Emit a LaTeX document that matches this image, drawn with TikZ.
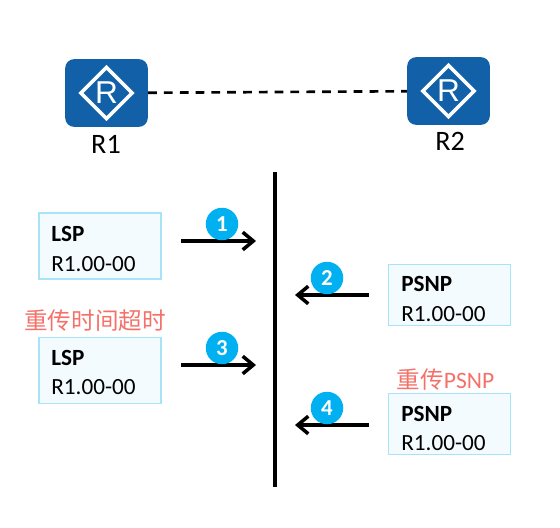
\documentclass[tikz,border=0pt]{standalone}
\usepackage{fontspec}
\setmainfont{Carlito}
\newfontfamily\cjk{Noto Sans CJK SC}
\newfontfamily\routerfont{Liberation Sans}
\usetikzlibrary{arrows.meta}
\usetikzlibrary{shapes.geometric}
\definecolor{routerblue}{HTML}{1160A8}
\definecolor{boxline}{HTML}{A9E3F8}
\definecolor{boxfill}{HTML}{F4FBFE}
\definecolor{badgeblue}{HTML}{00B0F0}
\definecolor{notered}{HTML}{F4716A}
\tikzset{
    routerbox/.style={fill=routerblue, rounded corners=5pt, minimum width=47pt, minimum height=38.5pt, inner sep=0pt},
    routermark/.style={diamond, draw=white, line width=2pt, minimum width=30pt, minimum height=30pt, inner sep=0pt, text=white, font=\routerfont\fontsize{18}{18}\selectfont},
    routerlabel/.style={font=\fontsize{16}{16}\selectfont},
    pdubox/.style={draw=boxline, fill=boxfill, line width=0.8pt, minimum width=69.5pt, inner sep=0pt},
    pdutext/.style={anchor=west, inner sep=0pt, text width=60pt, align=left, font=\fontsize{13.2}{17}\selectfont},
    flow/.style={line width=2pt, -{Straight Barb[length=6pt,width=10pt,line width=2pt]}},
    badge/.style={circle, fill=badgeblue, text=white, minimum size=18.5pt, inner sep=0pt, font=\bfseries\fontsize{13}{13}\selectfont},
    note/.style={text=notered, font=\fontsize{13.4}{13.4}\selectfont},
}
\begin{document}
\begin{tikzpicture}[x=0.02cm, y=-0.02cm]
    \useasboundingbox (0, 0) rectangle (560, 527);

    \node [routerbox] (r1) at (106.5, 93) {};
    \node [routermark] (r1mark) at (106.5, 93) {R};
    \node [routerlabel] (r1label) at (106, 144) {R1};
    \node [routerbox] (r2) at (448.5, 91) {};
    \node [routermark] (r2mark) at (448.5, 91) {R};
    \node [routerlabel] (r2label) at (450, 141) {R2};
    \draw [line width=1.5pt, dash pattern=on 5pt off 4pt] (r1) -- (r2);

    \coordinate (top) at (275, 172);
    \coordinate (bottom) at (275, 487);
    \draw [line width=2pt] (top) -- (bottom);

    \node [pdubox, minimum height=37.5pt] (lsp1) at (100, 246) {};
    \node [pdutext] (lsp1text) at (51, 249) {\textbf{LSP}\\R1.00-00};
    \node [pdubox, minimum height=37.5pt] (lsp2) at (100, 370.5) {};
    \node [pdutext] (lsp2text) at (51, 372.5) {\textbf{LSP}\\R1.00-00};
    \node [pdubox, minimum height=35pt] (psnp1) at (449.5, 295) {};
    \node [pdutext] (psnp1text) at (401, 299) {\textbf{PSNP}\\R1.00-00};
    \node [pdubox, minimum height=35pt] (psnp2) at (449.5, 424) {};
    \node [pdutext] (psnp2text) at (401, 428.5) {\textbf{PSNP}\\R1.00-00};

    \node [note] (timeout) at (95, 321) {\cjk 重传时间超时};
    \node [note] (resend) at (445.5, 380) {\cjk 重传\normalfont PSNP};

    \coordinate (a1) at (181, 241);
    \coordinate (a2) at (256, 241);
    \coordinate (b1) at (369, 295);
    \coordinate (b2) at (295, 295);
    \coordinate (c1) at (181, 365);
    \coordinate (c2) at (256, 365);
    \coordinate (d1) at (369, 425);
    \coordinate (d2) at (295, 425);
    \draw [flow] (a1) -- (a2);
    \draw [flow] (b1) -- (b2);
    \draw [flow] (c1) -- (c2);
    \draw [flow] (d1) -- (d2);

    \node [badge] (one) at (222, 224) {1};
    \node [badge] (two) at (327, 278) {2};
    \node [badge] (three) at (222, 348) {3};
    \node [badge] (four) at (327, 408) {4};
\end{tikzpicture}
\end{document}
